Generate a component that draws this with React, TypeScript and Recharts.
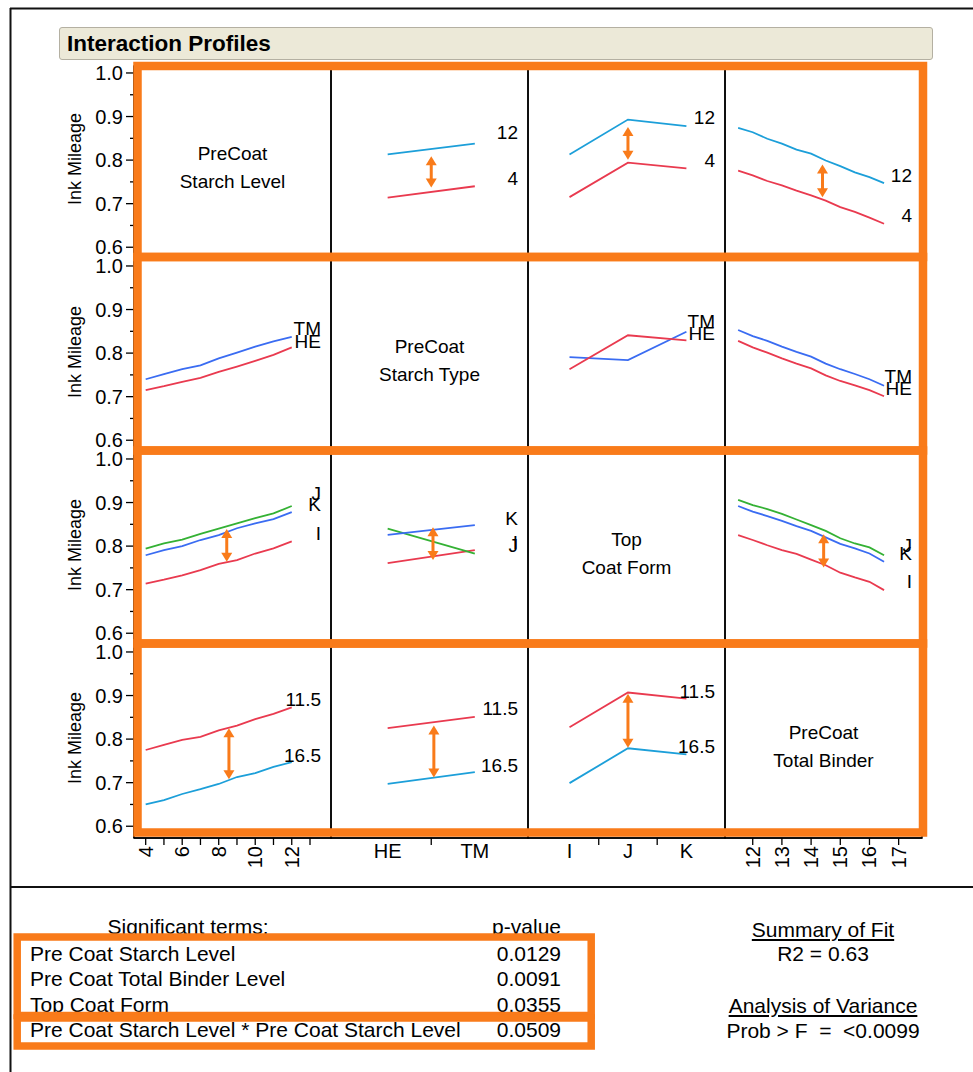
import React from 'react';
import { LineChart, Line, XAxis, YAxis, ReferenceLine } from 'recharts';

const FONT = '"Liberation Sans", Arial, Helvetica, sans-serif';

const RED = '#E93A4F';
const CYAN = '#1C9FD9';
const BLUE = '#3A6CF2';
const GREEN = '#34B134';
const ORANGE = '#F97B1A';

// Factor levels
const starchLevels = [4, 5, 6, 7, 8, 9, 10, 11, 12];
const binderLevels = [11.5, 12, 12.5, 13, 13.5, 14, 14.5, 15, 15.5, 16, 16.5];
const starchTypes = ['HE', 'TM'];
const coatForms = ['I', 'J', 'K'];

// Axis ticks
const yTicks = [0.6, 0.65, 0.7, 0.75, 0.8, 0.85, 0.9, 0.95, 1.0];
const yLabelTicks = [0.6, 0.7, 0.8, 0.9, 1.0];
const starchLevelTicks = [4, 5, 6, 7, 8, 9, 10, 11, 12, 13];
const starchLevelLabels = [4, 6, 8, 10, 12];
const binderTicks = [12, 13, 14, 15, 16, 17];

// Starch level profiles (4 vs 12)
const level12ByType = [0.813, 0.838];
const level4ByType = [0.714, 0.74];
const level12ByForm = [0.813, 0.893, 0.878];
const level4ByForm = [0.715, 0.794, 0.781];
const level12ByBinder = [0.874, 0.864, 0.849, 0.838, 0.824, 0.815, 0.799, 0.786, 0.772, 0.761, 0.747];
const level4ByBinder = [0.776, 0.765, 0.752, 0.742, 0.73, 0.719, 0.707, 0.692, 0.681, 0.668, 0.654];

// Starch type profiles (TM vs HE)
const tmByLevel = [0.74, 0.752, 0.763, 0.772, 0.788, 0.801, 0.815, 0.827, 0.837];
const heByLevel = [0.715, 0.724, 0.734, 0.743, 0.757, 0.769, 0.782, 0.796, 0.813];
const tmByForm = [0.791, 0.784, 0.849];
const heByForm = [0.763, 0.841, 0.829];
const tmByBinder = [0.853, 0.839, 0.828, 0.815, 0.803, 0.792, 0.776, 0.763, 0.752, 0.74, 0.725];
const heByBinder = [0.828, 0.813, 0.801, 0.788, 0.776, 0.765, 0.749, 0.736, 0.726, 0.715, 0.701];

// Top coat form profiles (I, J, K)
const jByLevel = [0.794, 0.806, 0.815, 0.828, 0.84, 0.852, 0.864, 0.875, 0.892];
const kByLevel = [0.779, 0.791, 0.8, 0.814, 0.825, 0.841, 0.852, 0.862, 0.878];
const iByLevel = [0.714, 0.723, 0.733, 0.745, 0.759, 0.768, 0.783, 0.795, 0.811];
const iByType = [0.761, 0.791];
const jByType = [0.84, 0.783];
const kByType = [0.826, 0.848];
const jByBinder = [0.906, 0.894, 0.885, 0.874, 0.861, 0.848, 0.835, 0.818, 0.806, 0.797, 0.779];
const kByBinder = [0.892, 0.879, 0.869, 0.858, 0.846, 0.835, 0.82, 0.805, 0.795, 0.783, 0.764];
const iByBinder = [0.825, 0.814, 0.802, 0.791, 0.782, 0.769, 0.756, 0.739, 0.728, 0.718, 0.699];

// Total binder profiles (11.5 vs 16.5)
const b115ByLevel = [0.775, 0.787, 0.798, 0.805, 0.82, 0.831, 0.846, 0.858, 0.873];
const b165ByLevel = [0.65, 0.66, 0.674, 0.685, 0.697, 0.713, 0.722, 0.736, 0.747];
const b115ByType = [0.825, 0.851];
const b165ByType = [0.697, 0.724];
const b115ByForm = [0.827, 0.907, 0.893];
const b165ByForm = [0.699, 0.779, 0.765];

// Gap markers: [row, col, x, upper, lower]
const gapArrows: [number, number, number, number, number][] = [
  [0, 1, 0.5, 0.809, 0.737],
  [0, 2, 1, 0.876, 0.801],
  [0, 3, 14.39, 0.79, 0.715],
  [2, 0, 8.44, 0.839, 0.764],
  [2, 1, 0.52, 0.843, 0.768],
  [2, 3, 14.43, 0.827, 0.751],
  [3, 0, 8.56, 0.825, 0.708],
  [3, 1, 0.53, 0.831, 0.712],
  [3, 2, 1, 0.904, 0.78],
];

// Model summary
const sigTerms = [
  'Pre Coat Starch Level',
  'Pre Coat Total Binder Level',
  'Top Coat Form',
  'Pre Coat Starch Level * Pre Coat Starch Level',
];
const pValues = ['0.0129', '0.0091', '0.0355', '0.0509'];
const r2Text = 'R2 = 0.63';
const probText = 'Prob > F  =  <0.0099';

// Layout
const COL_X = [134, 331, 528, 725];
const ROW_Y = [66, 259, 452, 645];
const PANEL_W = 197;
const PANEL_H = 193;
const Y_AXIS_W = 80;
const X_AXIS_H = 50;
const PAD = 14;
const Y_DOMAIN: [number, number] = [0.573, 1.016];

type Factor = {
  title: [string, string];
  xs: number[];
  domain: [number, number];
  ticks: number[];
  tickText: (v: number) => string | null;
  rotate: boolean;
};

const factors: Factor[] = [
  {
    title: ['PreCoat', 'Starch Level'],
    xs: starchLevels,
    domain: [3.36, 14.15],
    ticks: starchLevelTicks,
    tickText: (v) => (starchLevelLabels.includes(v) ? String(v) : null),
    rotate: true,
  },
  {
    title: ['PreCoat', 'Starch Type'],
    xs: starchTypes.map((_, i) => i),
    domain: [-0.65, 1.61],
    ticks: [0, 0.5, 1],
    tickText: (v) => (Number.isInteger(v) ? starchTypes[v] : null),
    rotate: false,
  },
  {
    title: ['Top', 'Coat Form'],
    xs: coatForms.map((_, i) => i),
    domain: [-0.71, 2.66],
    ticks: [0, 0.5, 1, 1.5, 2],
    tickText: (v) => (Number.isInteger(v) ? coatForms[v] : null),
    rotate: false,
  },
  {
    title: ['PreCoat', 'Total Binder'],
    xs: binderLevels,
    domain: [11.05, 17.8],
    ticks: binderTicks,
    tickText: (v) => String(v),
    rotate: true,
  },
];

type Series = { name: string; values: number[]; color: string; dy?: number };

const panelSeries: Record<string, Series[]> = {
  '0-1': [
    { name: '12', values: level12ByType, color: CYAN, dy: -11 },
    { name: '4', values: level4ByType, color: RED },
  ],
  '0-2': [
    { name: '12', values: level12ByForm, color: CYAN, dy: -9 },
    { name: '4', values: level4ByForm, color: RED },
  ],
  '0-3': [
    { name: '12', values: level12ByBinder, color: CYAN },
    { name: '4', values: level4ByBinder, color: RED },
  ],
  '1-0': [
    { name: 'TM', values: tmByLevel, color: BLUE },
    { name: 'HE', values: heByLevel, color: RED, dy: -6 },
  ],
  '1-2': [
    { name: 'TM', values: tmByForm, color: BLUE, dy: -10 },
    { name: 'HE', values: heByForm, color: RED, dy: -7 },
  ],
  '1-3': [
    { name: 'TM', values: tmByBinder, color: BLUE, dy: -9 },
    { name: 'HE', values: heByBinder, color: RED },
  ],
  '2-0': [
    { name: 'J', values: jByLevel, color: GREEN, dy: -13 },
    { name: 'K', values: kByLevel, color: BLUE },
    { name: 'I', values: iByLevel, color: RED },
  ],
  '2-1': [
    { name: 'I', values: iByType, color: RED },
    { name: 'J', values: jByType, color: GREEN },
    { name: 'K', values: kByType, color: BLUE, dy: -7 },
  ],
  '2-3': [
    { name: 'J', values: jByBinder, color: GREEN, dy: -10 },
    { name: 'K', values: kByBinder, color: BLUE },
    { name: 'I', values: iByBinder, color: RED, dy: -9 },
  ],
  '3-0': [
    { name: '11.5', values: b115ByLevel, color: RED },
    { name: '16.5', values: b165ByLevel, color: CYAN, dy: -7 },
  ],
  '3-1': [
    { name: '11.5', values: b115ByType, color: RED },
    { name: '16.5', values: b165ByType, color: CYAN, dy: -7 },
  ],
  '3-2': [
    { name: '11.5', values: b115ByForm, color: RED, dy: -7 },
    { name: '16.5', values: b165ByForm, color: CYAN },
  ],
};

const renderYTick = (p: any) => {
  const { x, y, payload } = p;
  const v = payload.value as number;
  const major = yLabelTicks.some((t) => Math.abs(t - v) < 1e-9);
  return (
    <g>
      <line x1={x - (major ? 8 : 4)} x2={x} y1={y} y2={y} stroke="#000" strokeWidth={1.3} />
      {major && (
        <text x={x - 11} y={y} textAnchor="end" dominantBaseline="central" fontSize={20} fill="#000">
          {v.toFixed(1)}
        </text>
      )}
    </g>
  );
};

const makeXTick = (f: Factor) => (p: any) => {
  const { x, y, payload } = p;
  const v = payload.value as number;
  const text = f.tickText(v);
  const mark = f.rotate || text === null;
  return (
    <g>
      {mark && <line x1={x} x2={x} y1={y} y2={y + 7} stroke="#000" strokeWidth={1.3} />}
      {text !== null &&
        (f.rotate ? (
          <text
            x={x}
            y={y + 8}
            transform={`rotate(-90 ${x} ${y + 8})`}
            textAnchor="end"
            dominantBaseline="central"
            fontSize={20}
            fill="#000"
          >
            {text}
          </text>
        ) : (
          <text x={x} y={y + 13} textAnchor="middle" dominantBaseline="central" fontSize={20} fill="#000">
            {text}
          </text>
        ))}
    </g>
  );
};

// Double-headed vertical arrow drawn along a reference segment
const arrowShape = (p: any) => {
  const x = p.x1;
  const top = Math.min(p.y1, p.y2);
  const bot = Math.max(p.y1, p.y2);
  const h = 9;
  const w = 5.5;
  return (
    <g>
      <line x1={x} x2={x} y1={top + h - 1} y2={bot - h + 1} stroke={ORANGE} strokeWidth={3} />
      <polygon points={`${x},${top} ${x - w},${top + h} ${x + w},${top + h}`} fill={ORANGE} />
      <polygon points={`${x},${bot} ${x - w},${bot - h} ${x + w},${bot - h}`} fill={ORANGE} />
    </g>
  );
};

function Panel({ r, c }: { r: number; c: number }) {
  const colF = factors[c];
  const isLeft = c === 0;
  const isBottom = r === 3;
  const plotLeft = isLeft ? Y_AXIS_W : 0;
  const width = PANEL_W + plotLeft;
  const bottomSpace = isBottom ? X_AXIS_H : PAD;
  const height = PAD + PANEL_H + bottomSpace;
  const series = panelSeries[`${r}-${c}`] || [];
  const data = colF.xs.map((x, i) => {
    const row: Record<string, number> = { x };
    series.forEach((s, k) => {
      row['s' + k] = s.values[i];
    });
    return row;
  });
  const arrows = gapArrows.filter((a) => a[0] === r && a[1] === c);

  return (
    <div style={{ position: 'absolute', left: COL_X[c] - plotLeft, top: ROW_Y[r] - PAD, width, height }}>
      <LineChart
        width={width}
        height={height}
        data={data}
        margin={{ top: PAD, right: 0, bottom: isBottom ? 0 : PAD, left: 0 }}
      >
        <XAxis
          type="number"
          dataKey="x"
          domain={colF.domain}
          ticks={colF.ticks}
          allowDataOverflow
          interval={0}
          hide={!isBottom}
          height={X_AXIS_H}
          tickSize={0}
          tickMargin={0}
          tickLine={false}
          axisLine={{ stroke: '#000', strokeWidth: 1.5 }}
          tick={makeXTick(colF)}
        />
        <YAxis
          type="number"
          domain={Y_DOMAIN}
          ticks={yTicks}
          allowDataOverflow
          interval={0}
          hide={!isLeft}
          width={Y_AXIS_W}
          tickSize={0}
          tickMargin={0}
          tickLine={false}
          axisLine={{ stroke: '#000', strokeWidth: 1.5 }}
          tick={renderYTick}
        />
        {series.map((s, k) => {
          const n = s.values.length;
          return (
            <Line
              key={s.name + k}
              type="linear"
              dataKey={'s' + k}
              stroke={s.color}
              strokeWidth={1.8}
              dot={false}
              activeDot={false}
              isAnimationActive={false}
              label={(p: any) => {
                const isLast = p.index !== undefined ? p.index === n - 1 : p.value === s.values[n - 1];
                if (!isLast) return null;
                return (
                  <text
                    x={plotLeft + PANEL_W - 10}
                    y={p.y + (s.dy ?? -8)}
                    textAnchor="end"
                    dominantBaseline="central"
                    fontSize={19}
                    fill="#000"
                  >
                    {s.name}
                  </text>
                );
              }}
            />
          );
        })}
        {arrows.map((a, i) => (
          <ReferenceLine
            key={'arrow' + i}
            segment={[
              { x: a[2], y: a[3] },
              { x: a[2], y: a[4] },
            ]}
            shape={arrowShape}
          />
        ))}
      </LineChart>
    </div>
  );
}

const rowRects = [
  [66, 257],
  [257, 450.5],
  [450.5, 643.5],
  [643.5, 832.5],
];

export default function App() {
  const panels: React.ReactNode[] = [];
  for (let r = 0; r < 4; r++) {
    for (let c = 0; c < 4; c++) {
      panels.push(<Panel key={`${r}-${c}`} r={r} c={c} />);
    }
  }
  const tableRowY = [954, 979, 1005, 1030];

  return (
    <div
      style={{
        position: 'absolute',
        left: 0,
        top: 0,
        width: 973,
        height: 1072,
        overflow: 'hidden',
        background: '#fff',
        fontFamily: FONT,
        color: '#000',
      }}
    >
      {/* Header bar */}
      <div
        style={{
          position: 'absolute',
          left: 59,
          top: 27,
          width: 874,
          height: 33,
          background: '#ECE9D8',
          border: '1px solid #B4B0A2',
          borderRadius: 3,
          boxSizing: 'border-box',
        }}
      >
        <div style={{ position: 'absolute', left: 7, top: 3, fontSize: 22.5, fontWeight: 'bold', lineHeight: '26px' }}>
          Interaction Profiles
        </div>
      </div>

      {panels}

      {/* Model summary */}
      <div style={{ position: 'absolute', left: 38, top: 915, width: 300, textAlign: 'center', fontSize: 21, lineHeight: '24px' }}>
        Significant terms:
      </div>
      <div style={{ position: 'absolute', left: 361, top: 915, width: 200, textAlign: 'right', fontSize: 21, lineHeight: '24px' }}>
        p-value
      </div>
      {sigTerms.map((t, i) => (
        <div
          key={t}
          style={{ position: 'absolute', left: 30, top: tableRowY[i] - 12, fontSize: 21, lineHeight: '24px', whiteSpace: 'pre' }}
        >
          {t}
        </div>
      ))}
      {pValues.map((v, i) => (
        <div
          key={'p' + i}
          style={{ position: 'absolute', left: 461, width: 100, top: tableRowY[i] - 12, textAlign: 'right', fontSize: 21, lineHeight: '24px' }}
        >
          {v}
        </div>
      ))}
      {[
        { t: 'Summary of Fit', y: 930, u: true },
        { t: r2Text, y: 954, u: false },
        { t: 'Analysis of Variance', y: 1006, u: true },
        { t: probText, y: 1031, u: false },
      ].map((d) => (
        <div
          key={d.t}
          style={{
            position: 'absolute',
            left: 673,
            width: 300,
            top: d.y - 12,
            textAlign: 'center',
            fontSize: 21,
            lineHeight: '24px',
            whiteSpace: 'pre',
            textDecoration: d.u ? 'underline' : 'none',
          }}
        >
          {d.t}
        </div>
      ))}

      {/* Frames, panel titles and highlight boxes */}
      <svg
        width={973}
        height={1072}
        style={{ position: 'absolute', left: 0, top: 0, pointerEvents: 'none' }}
      >
        <line x1={10} x2={973} y1={8.5} y2={8.5} stroke="#111" strokeWidth={2} />
        <line x1={10.5} x2={10.5} y1={8} y2={1072} stroke="#111" strokeWidth={2} />
        <line x1={10} x2={973} y1={887} y2={887} stroke="#111" strokeWidth={2} />

        {ROW_Y.map((y, r) =>
          COL_X.map((x, c) => (
            <rect key={`f${r}${c}`} x={x} y={y} width={PANEL_W} height={PANEL_H} fill="none" stroke="#000" strokeWidth={1.5} />
          ))
        )}

        {ROW_Y.map((y, r) => (
          <text
            key={'yl' + r}
            x={74.5}
            y={y + 93}
            transform={`rotate(-90 74.5 ${y + 93})`}
            textAnchor="middle"
            dominantBaseline="central"
            fontSize={18}
            fill="#000"
          >
            Ink Mileage
          </text>
        ))}

        {factors.map((f, i) => (
          <g key={'t' + i}>
            <text x={COL_X[i] + PANEL_W / 2} y={ROW_Y[i] + PANEL_H / 2 - 9.5} textAnchor="middle" dominantBaseline="central" fontSize={19} fill="#000">
              {f.title[0]}
            </text>
            <text x={COL_X[i] + PANEL_W / 2} y={ROW_Y[i] + PANEL_H / 2 + 18.5} textAnchor="middle" dominantBaseline="central" fontSize={19} fill="#000">
              {f.title[1]}
            </text>
          </g>
        ))}

        {rowRects.map(([y0, y1], i) => (
          <rect key={'o' + i} x={137.5} y={y0} width={785.5} height={y1 - y0} fill="none" stroke={ORANGE} strokeWidth={8.5} />
        ))}

        <rect x={17.2} y={937} width={574} height={78.5} fill="none" stroke={ORANGE} strokeWidth={7.5} />
        <rect x={17.2} y={1018} width={574} height={28} fill="none" stroke={ORANGE} strokeWidth={7.5} />
      </svg>
    </div>
  );
}
